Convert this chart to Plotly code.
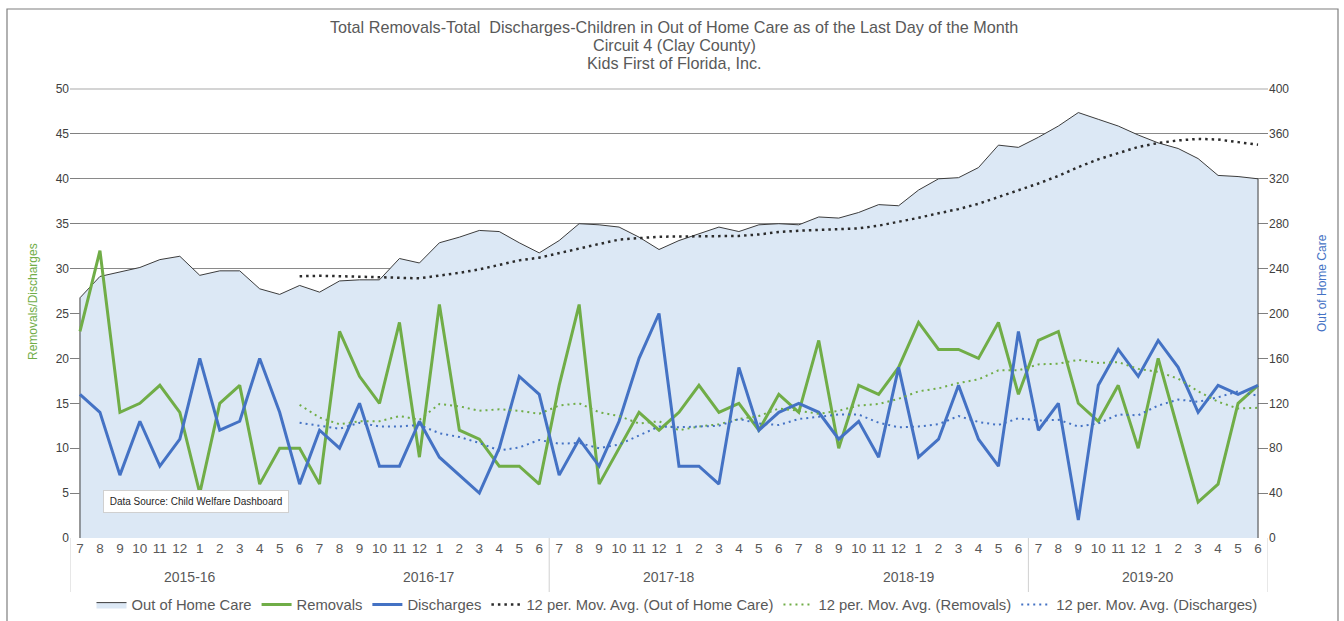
import pandas as pd
import plotly.graph_objects as go

# Monthly counts, July 2015 through June 2020
fiscal_years = ["2015-16", "2016-17", "2017-18", "2018-19", "2019-20"]
fy_months = ["7", "8", "9", "10", "11", "12", "1", "2", "3", "4", "5", "6"]
month_labels = fy_months * len(fiscal_years)

out_of_home_care = [214, 233, 237, 241, 248, 251, 234, 238, 238, 222, 217, 225,
                    219, 229, 230, 230, 249, 245, 263, 268, 274, 273, 263, 254,
                    265, 280, 279, 277, 268, 257, 265, 271, 277, 273, 279, 280,
                    279, 286, 285, 290, 297, 296, 310, 320, 321, 330, 350, 348,
                    357, 367, 379, 373, 367, 359, 352, 347, 338, 323, 322, 320]

removals = [23, 32, 14, 15, 17, 14, 5, 15, 17, 6, 10, 10,
            6, 23, 18, 15, 24, 9, 26, 12, 11, 8, 8, 6,
            17, 26, 6, 10, 14, 12, 14, 17, 14, 15, 12, 16,
            14, 22, 10, 17, 16, 19, 24, 21, 21, 20, 24, 16,
            22, 23, 15, 13, 17, 10, 20, 12, 4, 6, 15, 17]

discharges = [16, 14, 7, 13, 8, 11, 20, 12, 13, 20, 14, 6,
              12, 10, 15, 8, 8, 13, 9, 7, 5, 10, 18, 16,
              7, 11, 8, 13, 20, 25, 8, 8, 6, 19, 12, 14,
              15, 14, 11, 13, 9, 19, 9, 11, 17, 11, 8, 23,
              12, 15, 2, 17, 21, 18, 22, 19, 14, 17, 16, 17]

GREEN = "#70AD47"
BLUE = "#4472C4"
AREA_FILL = "#DCE8F5"
NARROW = "Liberation Sans Narrow, Arial Narrow, Liberation Sans, Arial, sans-serif"
REGULAR = "Liberation Sans, Arial, sans-serif"

n = len(month_labels)
x = list(range(n))

# 12-period moving averages (trendlines)
ma_oohc = pd.Series(out_of_home_care).rolling(12).mean().tolist()
ma_rem = pd.Series(removals).rolling(12).mean().tolist()
ma_dis = pd.Series(discharges).rolling(12).mean().tolist()

fig = go.Figure()

# Out of Home Care area on the right axis, closed down to zero at both ends
fig.add_trace(go.Scatter(
    x=[0] + x + [n - 1], y=[0] + out_of_home_care + [0],
    fill="toself", fillcolor=AREA_FILL, mode="lines",
    line=dict(color="#3c3c3c", width=1),
    name="Out of Home Care", yaxis="y", hoverinfo="skip",
))
fig.add_trace(go.Scatter(
    x=x, y=removals, mode="lines", line=dict(color=GREEN, width=3),
    name="Removals", yaxis="y2",
))
fig.add_trace(go.Scatter(
    x=x, y=discharges, mode="lines", line=dict(color=BLUE, width=3),
    name="Discharges", yaxis="y2",
))
fig.add_trace(go.Scatter(
    x=x, y=ma_oohc, mode="lines",
    line=dict(color="#2b2b2b", width=2.5, dash="2.5px,4px"),
    name="12 per. Mov. Avg. (Out of Home Care)", yaxis="y",
))
fig.add_trace(go.Scatter(
    x=x, y=ma_rem, mode="lines",
    line=dict(color=GREEN, width=2, dash="2px,4px"),
    name="12 per. Mov. Avg. (Removals)", yaxis="y2",
))
fig.add_trace(go.Scatter(
    x=x, y=ma_dis, mode="lines",
    line=dict(color=BLUE, width=2, dash="2px,4px"),
    name="12 per. Mov. Avg. (Discharges)", yaxis="y2",
))

PL, PR, PT, PB = 70, 1268, 89, 538
W, H = 1344, 621


def px_x(px):
    return (px - PL) / (PR - PL)


def px_y(py):
    return (PB - py) / (PB - PT)


annotations = []
titles = ["Total Removals-Total  Discharges-Children in Out of Home Care as of the Last Day of the Month",
          "Circuit 4 (Clay County)",
          "Kids First of Florida, Inc."]
for line, ypx in zip(titles, [27, 45, 63]):
    annotations.append(dict(
        text=line, xref="paper", yref="paper", x=px_x(674), y=px_y(ypx),
        xanchor="center", yanchor="middle", showarrow=False,
        font=dict(family=NARROW, size=16.2, color="#595959"),
    ))

for k, fy in enumerate(fiscal_years):
    annotations.append(dict(
        text=fy, xref="x", yref="paper", x=12 * k + 5.5, y=px_y(577),
        xanchor="center", yanchor="middle", showarrow=False,
        font=dict(family=NARROW, size=14, color="#595959"),
    ))

annotations.append(dict(
    text="Removals/Discharges", xref="paper", yref="paper",
    x=px_x(33), y=px_y(302), textangle=-90, showarrow=False,
    xanchor="center", yanchor="middle",
    font=dict(family=NARROW, size=12, color=GREEN),
))
annotations.append(dict(
    text="Out of Home Care", xref="paper", yref="paper",
    x=px_x(1322), y=px_y(283), textangle=-90, showarrow=False,
    xanchor="center", yanchor="middle",
    font=dict(family=NARROW, size=12, color=BLUE),
))
annotations.append(dict(
    text="Data Source: Child Welfare Dashboard", xref="paper", yref="paper",
    x=px_x(195.5), y=px_y(501.5), showarrow=False,
    xanchor="center", yanchor="middle", width=180, height=17, borderpad=2,
    bgcolor="white", bordercolor="#d0d0d0", borderwidth=1,
    font=dict(family=REGULAR, size=10, color="#262626"),
))

shapes = []
# outer chart frame
shapes.append(dict(type="rect", xref="paper", yref="paper",
                   x0=px_x(7), x1=px_x(1338), y0=px_y(640), y1=px_y(9),
                   line=dict(color="#7f7f7f", width=1.2), layer="below"))
# top border of the plot area
shapes.append(dict(type="line", xref="paper", yref="paper",
                   x0=0, x1=1, y0=1, y1=1,
                   line=dict(color="#d4d4d4", width=2), layer="above"))
# category group separators under the axis
for sx in [-0.5, 23.5, 47.5, 59.5]:
    shapes.append(dict(type="line", xref="x", yref="paper",
                       x0=sx, x1=sx, y0=0, y1=px_y(592),
                       line=dict(color="#d0d0d0", width=1)))

fig.update_layout(
    width=W, height=H,
    margin=dict(l=PL, r=W - PR, t=PT, b=H - PB, autoexpand=False),
    paper_bgcolor="white", plot_bgcolor="white",
    showlegend=True,
    legend=dict(orientation="h", x=px_x(677), xanchor="center",
                y=px_y(605), yanchor="middle",
                font=dict(family=NARROW, size=14.8, color="#595959"),
                itemwidth=30, tracegroupgap=0, bgcolor="rgba(0,0,0,0)"),
    xaxis=dict(range=[-0.5, n - 0.5], tickmode="array", tickvals=x,
               ticktext=month_labels, showgrid=False, zeroline=False,
               ticks="", showline=False, automargin=False,
               tickfont=dict(family=NARROW, size=13.5, color="#595959")),
    yaxis=dict(range=[0, 400], dtick=40, side="right", showgrid=False,
               zeroline=False, ticks="inside", ticklen=8, tickcolor="#7f7f7f",
               showline=False, automargin=False,
               tickfont=dict(family=REGULAR, size=12, color="#404040")),
    yaxis2=dict(range=[0, 50], dtick=5, side="left", overlaying="y",
                showgrid=True, gridcolor="#8a8a8a", gridwidth=1,
                zeroline=False, ticks="inside", ticklen=10,
                tickcolor="#7f7f7f", showline=False, automargin=False,
                tickfont=dict(family=REGULAR, size=12, color="#404040")),
    annotations=annotations,
    shapes=shapes,
)

fig.write_html("out.html")
